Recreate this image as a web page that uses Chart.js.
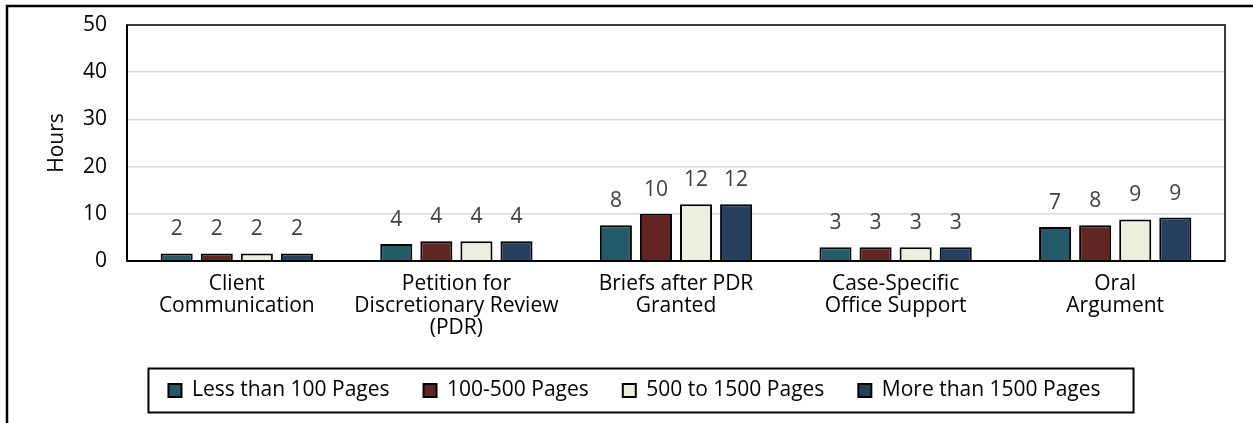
<!DOCTYPE html>
<html><head><meta charset="utf-8">
<script src="https://cdn.jsdelivr.net/npm/chart.js@4/dist/chart.umd.min.js"></script>
<style>html,body{margin:0;padding:0;background:#fff;overflow:hidden}
#wrap{position:relative;width:1253px;height:423px}
</style></head><body><div id="wrap"><canvas id="c" width="1253" height="423"></canvas></div>
<script>
const categories = [["Client","Communication"],["Petition for","Discretionary Review","(PDR)"],["Briefs after PDR","Granted"],["Case-Specific","Office Support"],["Oral","Argument"]];
const seriesNames = ["Less than 100 Pages","100-500 Pages","500 to 1500 Pages","More than 1500 Pages"];
const lessThan100 = [1.6, 3.6, 7.6, 2.9, 7.2];
const from100to500 = [1.6, 4.2, 10.0, 2.9, 7.6];
const from500to1500 = [1.6, 4.2, 12.0, 2.9, 8.8];
const moreThan1500 = [1.6, 4.2, 12.0, 2.9, 9.2];
const yTicks = [0, 10, 20, 30, 40, 50];
const yTitle = "Hours";

const colors = ['#245B68', '#632523', '#EBF0DE', '#253F5E'];
const FONT = "'Open Sans', 'DejaVu Sans', sans-serif";
const seriesValues = [lessThan100, from100to500, from500to1500, moreThan1500];
const PAD_LEFT = 44;

const decor = {
  id: 'decor',
  beforeDraw(chart) {
    const c = chart.ctx;
    c.save();
    c.fillStyle = '#fff';
    c.fillRect(0, 0, chart.width, chart.height);
    c.strokeStyle = '#000';
    c.lineWidth = 2.5;
    c.beginPath();
    c.moveTo(7, chart.height + 2);
    c.lineTo(7, 6);
    c.lineTo(chart.width + 2, 6);
    c.stroke();
    c.restore();
  },
  afterDatasetsDraw(chart) {
    const c = chart.ctx;
    c.save();
    c.font = "21px " + FONT;
    c.fillStyle = '#404040';
    c.textAlign = 'center';
    c.textBaseline = 'middle';
    chart.data.datasets.forEach((ds, i) => {
      chart.getDatasetMeta(i).data.forEach((bar, j) => {
        c.fillText(String(Math.round(ds.data[j])), bar.x, bar.y - 24);
      });
    });
    c.restore();
  },
  afterDraw(chart) {
    const c = chart.ctx;
    const a = chart.chartArea;
    c.save();
    c.strokeStyle = '#3a3a3a';
    c.lineWidth = 2;
    c.strokeRect(a.left, a.top, a.right - a.left, a.bottom - a.top);
    c.strokeStyle = '#000';
    c.beginPath();
    c.moveTo(a.left, a.bottom); c.lineTo(a.right, a.bottom);
    c.moveTo(a.left, a.top); c.lineTo(a.left, a.bottom);
    c.stroke();
    const hb = chart.legend.legendHitBoxes;
    if (hb && hb.length) {
      const l = Math.min(...hb.map(h => h.left)) - 20;
      const r = Math.max(...hb.map(h => h.left + h.width)) + 33;
      const t = Math.min(...hb.map(h => h.top));
      const bt = Math.max(...hb.map(h => h.top + h.height));
      const cy = (t + bt) / 2;
      c.lineWidth = 2;
      c.strokeRect(l, cy - 22, r - l, 44);
    }
    c.restore();
  }
};

new Chart(document.getElementById('c'), {
  type: 'bar',
  data: {
    labels: categories,
    datasets: seriesNames.map((name, i) => ({
      label: name,
      data: seriesValues[i],
      backgroundColor: colors[i],
      borderColor: '#000',
      borderWidth: 2,
      categoryPercentage: 0.73,
      barPercentage: 0.8
    }))
  },
  options: {
    responsive: false,
    devicePixelRatio: 1,
    animation: false,
    layout: { padding: { left: PAD_LEFT, right: 28, top: 25, bottom: 12 } },
    plugins: {
      legend: {
        position: 'bottom',
        labels: {
          boxWidth: 13, boxHeight: 13, padding: 34, color: '#000',
          font: { family: FONT, size: 21 }
        }
      },
      tooltip: { enabled: false }
    },
    scales: {
      x: {
        afterFit(scale) { scale.height = 85; },
        grid: { display: false, drawTicks: false },
        border: { display: true, color: '#000', width: 2 },
        ticks: { color: '#000', padding: 12, maxRotation: 0, autoSkip: false,
          font: { family: FONT, size: 21, lineHeight: 1.05 } }
      },
      y: {
        min: 0, max: 50,
        afterBuildTicks(scale) { scale.ticks = yTicks.map(v => ({ value: v })); },
        afterFit(scale) { scale.width = 127 - PAD_LEFT; scale.paddingTop = 0; scale.paddingBottom = 0; },
        grid: { color: '#d9d9d9', lineWidth: 1.5, drawTicks: false },
        border: { display: true, color: '#000', width: 2 },
        ticks: { color: '#000', padding: 20, font: { family: FONT, size: 21 } },
        title: { display: true, text: yTitle, color: '#000', padding: { top: 0, bottom: 0 },
          font: { family: FONT, size: 21 } }
      }
    }
  },
  plugins: [decor]
});
</script></body></html>
